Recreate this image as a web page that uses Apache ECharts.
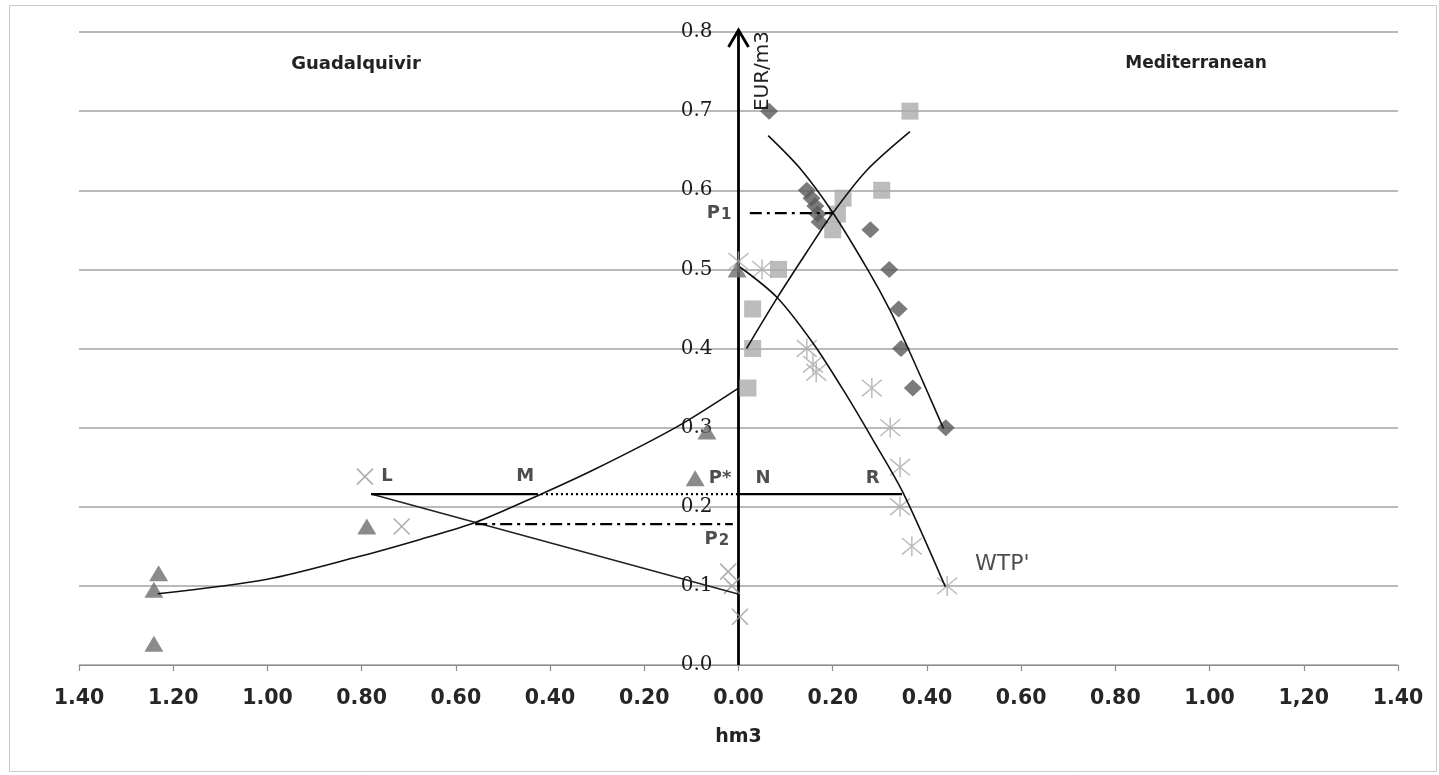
<!DOCTYPE html>
<html>
<head>
<meta charset="utf-8">
<script src="https://cdn.jsdelivr.net/npm/echarts@6/dist/echarts.min.js"></script>
<style>
html,body{margin:0;padding:0;background:#fff;}
#c{width:1439px;height:775px;}
</style>
</head>
<body>
<div id="c"></div>
<script>
// ---------- tick labels ----------
const xTickLabels = ['1.40','1.20','1.00','0.80','0.60','0.40','0.20','0.00','0.20','0.40','0.60','0.80','1.00','1,20','1.40'];
const yTickLabels = ['0.0','0.1','0.2','0.3','0.4','0.5','0.6','0.7','0.8'];

// ---------- marker series (hm3, EUR/m3) ----------
const medDiamonds = [[0.065,0.70],[0.145,0.60],[0.155,0.59],[0.163,0.58],[0.168,0.57],[0.172,0.56],[0.28,0.55],[0.32,0.50],[0.34,0.45],[0.345,0.40],[0.37,0.35],[0.44,0.30]];
const medSquares = [[0.364,0.70],[0.304,0.60],[0.222,0.59],[0.21,0.57],[0.20,0.55],[0.085,0.50],[0.03,0.45],[0.03,0.40],[0.02,0.35]];
const medStars = [[0.0,0.51],[0.05,0.50],[0.145,0.40],[0.158,0.38],[0.165,0.37],[0.283,0.35],[0.322,0.30],[0.343,0.25],[0.343,0.20],[0.368,0.15],[0.443,0.10]];
const guadCrosses = [[-0.793,0.238],[-0.715,0.175],[-0.022,0.118],[-0.014,0.10],[0.003,0.061]];
const guadTriangles = [[-0.003,0.50],[-0.067,0.295],[-0.092,0.236],[-0.789,0.175],[-1.231,0.116],[-1.241,0.095],[-1.241,0.027]];

// ---------- fitted curves / construction lines ----------
const guadSupplyCurve = [[-1.233,0.090],[-1.003,0.108],[-0.806,0.137],[-0.674,0.159],[-0.559,0.180],[-0.430,0.213],[-0.303,0.248],[-0.131,0.301],[0.0,0.350]];
const guadDemandLine = [[-0.78,0.216],[-0.003,0.09]];
const medDemandCurve = [[0.063,0.669],[0.13,0.628],[0.201,0.571],[0.274,0.50],[0.322,0.448],[0.36,0.40],[0.396,0.352],[0.435,0.299]];
const medSupplyCurve = [[0.017,0.40],[0.081,0.463],[0.145,0.522],[0.20,0.571],[0.272,0.625],[0.364,0.674]];
const wtpCurve = [[0.003,0.503],[0.081,0.465],[0.159,0.406],[0.223,0.347],[0.286,0.284],[0.35,0.217],[0.439,0.099]];
const lineLM = [[-0.78,0.216],[-0.43,0.216]];
const lineMN = [[-0.43,0.216],[0.0,0.216]];
const lineNR = [[0.0,0.216],[0.347,0.216]];
const lineP1 = [[0.024,0.571],[0.20,0.571]];
const lineP2 = [[-0.559,0.178],[-0.012,0.178]];

// ---------- annotations ----------
const annText = ['L','M','P*','N','R','P1','P2',"WTP'"];
const annX = [-0.746,-0.453,-0.039,0.052,0.285,-0.041,-0.046,0.56];
const annY = [0.239,0.239,0.236,0.236,0.236,0.572,0.160,0.1275];

const chart = echarts.init(document.getElementById('c'), null, {renderer:'canvas'});

const blackLine = (data, opts) => Object.assign({
  type:'line', data:data, symbol:'none', silent:true, z:5,
  lineStyle:{color:'#111', width:1.6}, animation:false
}, opts || {});

const starPath = 'path://M0,0 L20,20 M0,20 L20,0 M10,-2 L10,22';
const crossPath = 'path://M0,0 L20,20 M0,20 L20,0';

const GRID_LEFT = 79;

const option = {
  animation:false,
  backgroundColor:'#ffffff',
  grid:{left:GRID_LEFT, right:41, top:32, bottom:110, containLabel:false, outerBoundsMode:'none'},
  xAxis:{
    type:'value', min:-1.4, max:1.4, interval:0.2,
    axisLine:{onZero:true, lineStyle:{color:'#8c8c8c', width:1.2}},
    axisTick:{show:true, inside:false, length:6, lineStyle:{color:'#8c8c8c', width:1.2}},
    splitLine:{show:false},
    axisLabel:{
      margin:23, fontSize:20.5, fontFamily:'DejaVu Sans', fontWeight:'bold', color:'#262626',
      formatter:function(v){ return xTickLabels[Math.round((v + 1.4) / 0.2)]; }
    }
  },
  yAxis:{
    type:'value', min:0, max:0.8, interval:0.1, position:'left', offset:0,
    axisLine:{onZero:false, lineStyle:{color:'#000', width:2.8}},
    axisTick:{show:false},
    splitLine:{show:true, lineStyle:{color:'#a3a3a3', width:1.5}},
    axisLabel:{
      margin:26, fontSize:20, fontFamily:'DejaVu Serif', color:'#1a1a1a',
      formatter:function(v){ return yTickLabels[Math.round(v * 10)]; }
    }
  },
  series:[
    {type:'scatter', data:medSquares, symbol:'rect', symbolSize:17, z:2, silent:true,
     itemStyle:{color:'#ababab'}},
    {type:'scatter', data:medDiamonds, symbol:'diamond', symbolSize:[18,17], z:3, silent:true,
     itemStyle:{color:'#5a5a5a'}},
    {type:'scatter', data:medStars, symbol:starPath, symbolSize:20, z:2, silent:true,
     itemStyle:{color:'rgba(0,0,0,0)', borderColor:'#ababab', borderWidth:1.5}},
    {type:'scatter', data:guadCrosses, symbol:crossPath, symbolSize:16, z:2, silent:true,
     itemStyle:{color:'rgba(0,0,0,0)', borderColor:'#9a9a9a', borderWidth:1.6}},
    {type:'scatter', data:guadTriangles, symbol:'triangle', symbolSize:[19,16], z:3, silent:true,
     itemStyle:{color:'#6e6e6e'}},

    blackLine(guadSupplyCurve, {smooth:0.3}),
    blackLine(guadDemandLine, {lineStyle:{color:'#222', width:1.5}}),
    blackLine(medDemandCurve, {smooth:0.3}),
    blackLine(medSupplyCurve, {smooth:0.3}),
    blackLine(wtpCurve, {smooth:0.3}),
    blackLine(lineLM, {lineStyle:{color:'#000', width:2.3}}),
    blackLine(lineMN, {lineStyle:{color:'#000', width:2.3, type:[2,3]}}),
    blackLine(lineNR, {lineStyle:{color:'#000', width:2.3}}),
    blackLine(lineP1, {lineStyle:{color:'#000', width:2.2, type:[12,5,3,5]}}),
    blackLine(lineP2, {lineStyle:{color:'#000', width:2.2, type:[12,5,3,5]}}),

    {type:'scatter', silent:true, z:8, symbolSize:1, itemStyle:{color:'rgba(0,0,0,0)'},
     data:annText.map(function(t,i){ return {value:[annX[i], annY[i]], name:t}; }),
     label:{
       show:true, position:'inside',
       formatter:function(p){
         const t = p.name;
         if (t === 'P1' || t === 'P2') return '{p|P}{s|' + t.charAt(1) + '}';
         if (t === "WTP'") return '{w|' + t + '}';
         return '{b|' + t + '}';
       },
       rich:{
         b:{fontFamily:'DejaVu Sans', fontWeight:'bold', fontSize:18, color:'#222'},
         p:{fontFamily:'DejaVu Sans', fontWeight:'bold', fontSize:18, color:'#222', verticalAlign:'bottom', lineHeight:20},
         s:{fontFamily:'DejaVu Sans', fontWeight:'bold', fontSize:15, color:'#222', verticalAlign:'bottom', lineHeight:20, padding:[4,0,0,1]},
         w:{fontFamily:'DejaVu Sans', fontSize:22, color:'#222'}
       }
     }}
  ]
};
chart.setOption(option);

// move the vertical axis (line + labels) to x = 0
const base0 = chart.convertToPixel({gridIndex:0}, [0, 0]);
chart.setOption({yAxis:{offset: -(base0[0] - GRID_LEFT)}});

// decorations: arrowhead on the vertical axis, frame, titles, axis names
const tip = chart.convertToPixel({gridIndex:0}, [0, 0.8]);
const base = chart.convertToPixel({gridIndex:0}, [0, 0]);
chart.setOption({
  graphic:[
    {type:'rect', silent:true, z:0, shape:{x:9.5, y:5.5, width:1427, height:766},
     style:{fill:'none', stroke:'#c9c9c9', lineWidth:1}},
    {type:'polyline', silent:true, z:100, shape:{points:[[tip[0]-10, tip[1]+15],[tip[0], tip[1]-2],[tip[0]+10, tip[1]+15]]},
     style:{fill:'none', stroke:'#000', lineWidth:2.8}},
    {type:'text', silent:true, z:100, x:tip[0]+24, y:tip[1]+39, rotation:Math.PI/2,
     style:{text:'EUR/m3', fontFamily:'DejaVu Sans', fontSize:20, fill:'#222', align:'center', verticalAlign:'middle'}},
    {type:'text', silent:true, z:100, x:base[0], y:base[1]+72,
     style:{text:'hm3', fontFamily:'DejaVu Sans', fontWeight:'bold', fontSize:19, fill:'#222', align:'center', verticalAlign:'middle'}},
    {type:'text', silent:true, z:100, x:356, y:64,
     style:{text:'Guadalquivir', fontFamily:'DejaVu Sans', fontWeight:'bold', fontSize:18, fill:'#222', align:'center', verticalAlign:'middle'}},
    {type:'text', silent:true, z:100, x:1196, y:64,
     style:{text:'Mediterranean', fontFamily:'DejaVu Sans', fontWeight:'bold', fontSize:17, fill:'#222', align:'center', verticalAlign:'middle'}}
  ]
});
</script>
</body>
</html>
